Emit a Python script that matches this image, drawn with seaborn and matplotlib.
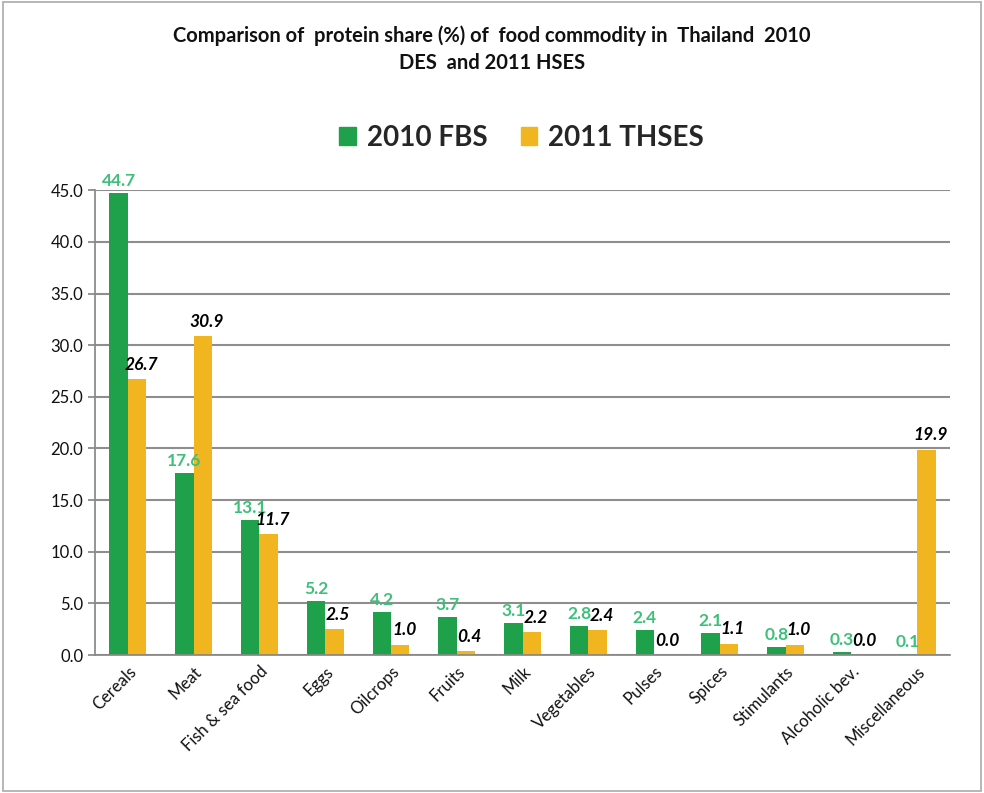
import matplotlib
matplotlib.use("Agg")
import matplotlib.pyplot as plt
import seaborn as sns
import pandas as pd
import numpy as np
from matplotlib.patches import Rectangle

categories = ["Cereals", "Meat", "Fish & sea food", "Eggs", "Oilcrops", "Fruits", "Milk",
              "Vegetables", "Pulses", "Spices", "Stimulants", "Alcoholic bev.", "Miscellaneous"]
fbs_2010 = [44.7, 17.6, 13.1, 5.2, 4.2, 3.7, 3.1, 2.8, 2.4, 2.1, 0.8, 0.3, 0.1]
thses_2011 = [26.7, 30.9, 11.7, 2.5, 1.0, 0.4, 2.2, 2.4, 0.0, 1.1, 1.0, 0.0, 19.9]
series = ["2010 FBS", "2011 THSES"]
yticks = [0, 5, 10, 15, 20, 25, 30, 35, 40, 45]

df = pd.DataFrame({
    "Category": categories * 2,
    "Share": fbs_2010 + thses_2011,
    "Series": [series[0]] * len(categories) + [series[1]] * len(categories),
})

sns.set_theme(style="white")
plt.rcParams["font.family"] = ["Lato", "DejaVu Sans"]

green = "#1fa04a"
yellow = "#f1b51f"
fig = plt.figure(figsize=(9.84, 7.93), dpi=100)
ax = fig.add_axes([0.0965, 0.174, 0.869, 0.586])

sns.barplot(data=df, x="Category", y="Share", hue="Series", palette=[green, yellow],
            width=0.56, ax=ax, legend=False, saturation=1, linewidth=0)

ax.set_ylim(0, 45)
ax.set_xlim(-0.5, len(categories) - 0.5)
ax.set_yticks(yticks)
ax.set_yticklabels([f"{v:.1f}" for v in yticks], fontsize=12, color="#111111")
for y in yticks:
    ax.axhline(y, color="#8e8e8e", lw=1.5, zorder=0)
ax.set_xlabel("")
ax.set_ylabel("")
ax.set_xticks(range(len(categories)))
ax.set_xticklabels(categories, rotation=45, ha="right", rotation_mode="anchor", fontsize=12,
                   color="#111111")
ax.tick_params(axis="x", length=0, pad=6)
ax.set_xticks(np.arange(-0.5, len(categories), 1), minor=True)
ax.tick_params(axis="x", which="minor", length=6, color="#888888", width=1)
ax.tick_params(axis="y", length=5, color="#888888", left=True)
for s in ["top", "right"]:
    ax.spines[s].set_visible(False)
ax.spines["left"].set_color("#888888")
ax.spines["bottom"].set_color("#888888")

# data labels
for i, (a, b) in enumerate(zip(fbs_2010, thses_2011)):
    ax.text(i - 0.14, a + 0.4, f"{a:.1f}", ha="center", va="bottom", fontsize=12.5,
            color="#3fc07a", fontweight="bold")
    ax.text(i + 0.2, b + 0.6, f"{b:.1f}", ha="center", va="bottom", fontsize=12.5,
            color="black", fontweight="bold", fontstyle="italic")

fig.text(0.5, 0.955, "Comparison of  protein share (%) of  food commodity in  Thailand  2010",
         ha="center", va="center", fontsize=14.5, fontweight="bold", color="#111111")
fig.text(0.5, 0.921, "DES  and 2011 HSES", ha="center", va="center", fontsize=14.5,
         fontweight="bold", color="#111111")

handles = [Rectangle((0, 0), 1, 1, color=green), Rectangle((0, 0), 1, 1, color=yellow)]
fig.legend(handles, series, loc="center", bbox_to_anchor=(0.53, 0.826), ncol=2, frameon=False,
           prop={"size": 20, "weight": "bold"}, handlelength=0.6, handleheight=0.6,
           handletextpad=0.4, columnspacing=1.2)

fig.patches.append(Rectangle((0.003, 0.003), 0.994, 0.994, transform=fig.transFigure,
                             fill=False, edgecolor="#aaaaaa", lw=1.2))

fig.savefig("out.png", dpi=100)
